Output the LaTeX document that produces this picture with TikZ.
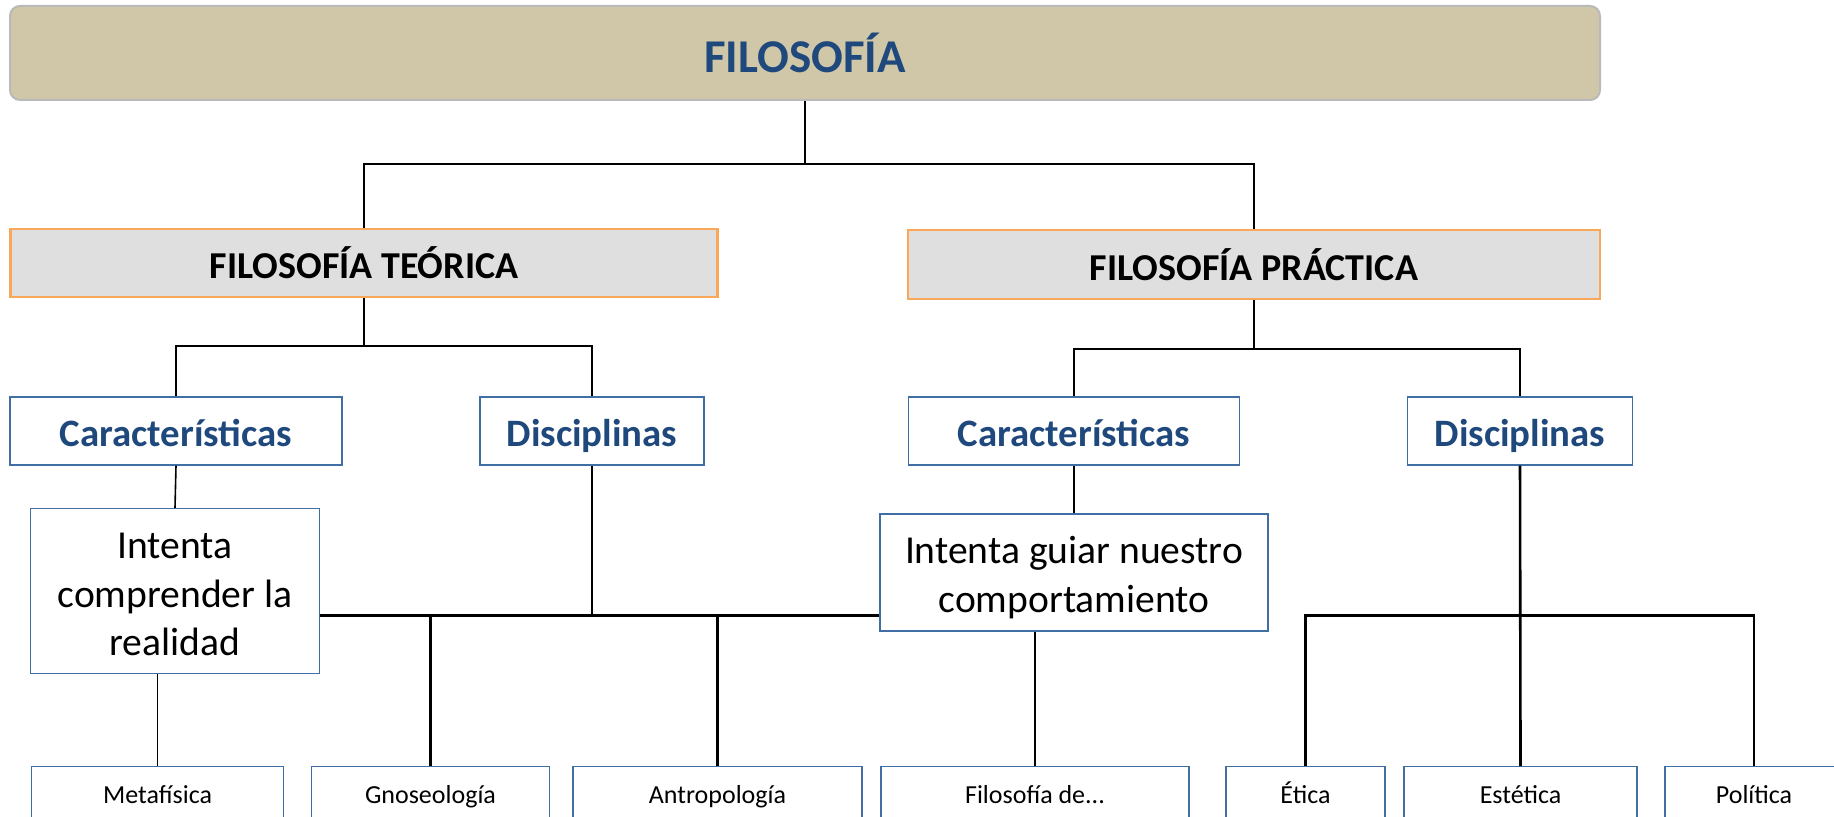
\documentclass[tikz,border=0pt]{standalone}
\usepackage{fontspec}
\setmainfont{Carlito}

\definecolor{titulofondo}{RGB}{208,199,168}
\definecolor{titulobordo}{RGB}{185,185,185}
\definecolor{ramafondo}{RGB}{223,223,223}
\definecolor{ramabordo}{RGB}{249,168,90}
\definecolor{azul}{RGB}{31,73,125}
\definecolor{azulbordo}{RGB}{65,110,165}

\tikzset{
  titulo/.style={draw=titulobordo, line width=1pt, fill=titulofondo, rounded corners=5pt,
    inner sep=0pt, text height=26pt, text depth=6pt, text=azul,
    font=\fontsize{23.5}{28}\selectfont\bfseries},
  rama/.style={draw=ramabordo, line width=1.2pt, fill=ramafondo, inner sep=0pt,
    minimum height=34pt, text height=20pt, text depth=4.3pt,
    font=\fontsize{19}{23}\selectfont\bfseries},
  apartado/.style={draw=azulbordo, line width=0.7pt, inner sep=0pt, minimum height=34pt,
    text height=20pt, text depth=4.5pt, text=azul,
    font=\fontsize{19.4}{23}\selectfont\bfseries},
  idea/.style={draw=azulbordo, line width=0.7pt, inner sep=0pt, align=center,
    font=\fontsize{19.8}{24.3}\selectfont},
  disciplina/.style={draw=azulbordo, line width=0.7pt, inner sep=0pt, minimum height=30pt,
    text height=9.7pt, text depth=3pt, font=\fontsize{13}{15}\selectfont},
}

\begin{document}
\begin{tikzpicture}[x=0.5pt, y=-0.5pt]
\useasboundingbox (0,0) rectangle (1834,817);
\clip (0,0) rectangle (1834,817);

\node[titulo, minimum width=795pt, minimum height=47pt] (fil) at (805,53) {FILOSOFÍA};

\node[rama, minimum width=353.5pt] (teo) at (364,263) {FILOSOFÍA TEÓRICA};
\node[rama, minimum width=346pt, minimum height=34.5pt] (pra) at (1254,264.5) {FILOSOFÍA PRÁCTICA};

\node[apartado, minimum width=166pt] (tcar) at (176,431) {Características};
\node[apartado, minimum width=112pt] (tdis) at (592,431) {Disciplinas};
\node[apartado, minimum width=165.5pt] (pcar) at (1074,431) {Características};
\node[apartado, minimum width=112.3pt] (pdis) at (1520,431) {Disciplinas};

\node[idea, minimum width=144.5pt, minimum height=82.5pt, text height=64.9pt, text depth=0pt] (tint) at (175,591) {Intenta\\comprender la\\realidad};
\node[idea, minimum width=194pt, minimum height=58.5pt, text height=44pt, text depth=4.2pt] (pint) at (1074,572.5) {Intenta guiar nuestro\\comportamiento};

\node[disciplina, minimum width=126pt] (meta) at (157.6,796.7) {Metafísica};
\node[disciplina, minimum width=118.9pt] (gnos) at (430.5,796.7) {Gnoseología};
\node[disciplina, minimum width=144.5pt] (antr) at (717.5,796.7) {Antropología};
\node[disciplina, minimum width=154pt] (filo) at (1035,796.7) {Filosofía de...};
\node[disciplina, minimum width=79.5pt] (etic) at (1305.5,796.7) {Ética};
\node[disciplina, minimum width=116.5pt] (este) at (1520.5,796.7) {Estética};
\node[disciplina, minimum width=89pt] (poli) at (1754,796.7) {Política};

% puntos de union
\coordinate (u0) at (805,164);
\coordinate (u1) at (364,346);
\coordinate (u2) at (1254,348.6);
\coordinate (u3) at (592,615.7);
\coordinate (u4) at (1520,615.7);

\begin{scope}[line width=1pt]
\draw (fil.south) -- (u0);
\draw (teo.north) |- (u0) -| (pra.north);
\draw (teo.south) -- (u1);
\draw (tcar.north) |- (u1) -| (tdis.north);
\draw (pra.south) -- (u2);
\draw (pcar.north) |- (u2) -| (pdis.north);
\draw[line width=0.8pt] (tcar.south) -- (tint.north);
\draw[line width=0.8pt] (pcar.south) -- (pint.north);
\draw[line width=0.8pt] (meta.north |- tint.south) -- (meta.north);
\draw[line width=0.8pt] (filo.north |- pint.south) -- (filo.north);
\end{scope}

\begin{scope}[line width=1.3pt]
\draw (tint.east |- u3) -- (pint.west |- u3);
\draw (tdis.south) -- (u3);
\foreach \d in {gnos, antr}
  \draw (\d.north |- u3) -- (\d.north);
\draw (pdis.south) -- (este.north);
\draw (etic.north) |- (u4) -| (poli.north);
\end{scope}

\end{tikzpicture}
\end{document}
